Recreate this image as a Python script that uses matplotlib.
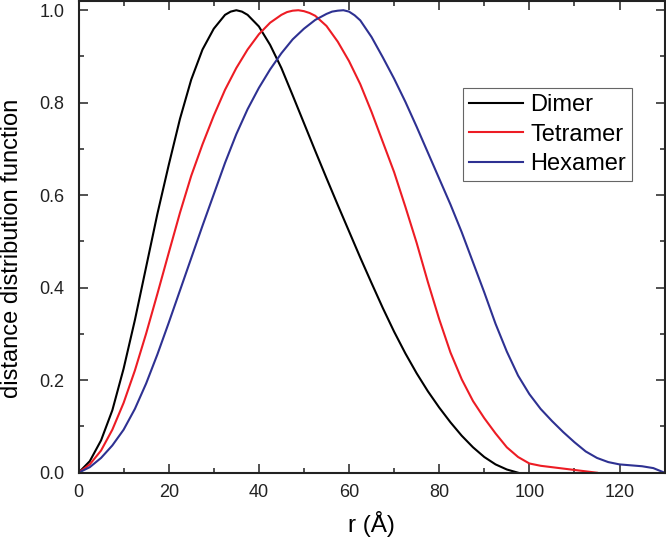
import matplotlib
matplotlib.use('Agg')
import matplotlib.pyplot as plt
from matplotlib.ticker import MultipleLocator

plt.rcParams['font.family'] = ['Liberation Sans', 'DejaVu Sans']

# values (r in Angstrom, normalised P(r))
dimer_r = [0, 2.5, 5, 7.5, 10, 12.5, 15, 17.5, 20, 22.5, 25, 27.5, 30, 32.5, 33.75, 35, 36.25,
           37.5, 40, 42.5, 45, 47.5, 50, 52.5, 55, 57.5, 60, 62.5, 65, 67.5, 70,
           72.5, 75, 77.5, 80, 82.5, 85, 87.5, 90, 92.5, 95, 97.5]
dimer_p = [0, 0.025, 0.07, 0.135, 0.225, 0.33, 0.445, 0.56, 0.665, 0.765, 0.85, 0.915, 0.96, 0.99,
           0.997, 1.0, 0.997,
           0.99, 0.965, 0.925, 0.875, 0.816, 0.756, 0.696, 0.637, 0.579, 0.522, 0.465, 0.41, 0.356, 0.305,
           0.258, 0.215, 0.176, 0.141, 0.109, 0.08, 0.055, 0.034, 0.018, 0.007, 0.0]

tetramer_r = [0, 2.5, 5, 7.5, 10, 12.5, 15, 17.5, 20, 22.5, 25, 27.5, 30, 32.5, 35, 37.5,
              40, 42.5, 45, 46.25, 47.5, 48.75, 50, 51.25, 52.5, 55, 57.5, 60, 62.5, 65, 67.5,
              70, 72.5, 75, 77.5, 80, 82.5, 85, 87.5, 90, 92.5, 95, 97.5, 100, 102.5, 105,
              107.5, 110, 112.5, 115]
tetramer_p = [0, 0.018, 0.048, 0.093, 0.151, 0.221, 0.301, 0.387, 0.475, 0.562, 0.642, 0.71, 0.772,
              0.828, 0.875, 0.915, 0.948, 0.973, 0.99, 0.996, 0.999, 1.0, 0.998, 0.994, 0.988,
              0.966, 0.932, 0.89, 0.84, 0.78, 0.715, 0.65, 0.575, 0.497, 0.412, 0.332, 0.26,
              0.202, 0.155, 0.118, 0.085, 0.055, 0.034, 0.02, 0.015, 0.012, 0.009, 0.006,
              0.003, 0.0]

hexamer_r = [0, 2.5, 5, 7.5, 10, 12.5, 15, 17.5, 20, 22.5, 25, 27.5, 30, 32.5, 35, 37.5,
             40, 42.5, 45, 47.5, 50, 52.5, 55, 56.25, 57.5, 58.75, 60, 61.25, 62.5, 65, 67.5,
             70, 72.5, 75, 77.5, 80, 82.5, 85, 87.5, 90, 92.5, 95, 97.5, 100, 102.5, 105,
             107.5, 110, 112.5, 115, 117.5, 120, 122.5, 125, 127.5, 130]
hexamer_p = [0, 0.012, 0.032, 0.059, 0.093, 0.138, 0.193, 0.256, 0.324, 0.394, 0.464, 0.534, 0.602,
             0.67, 0.732, 0.786, 0.832, 0.872, 0.907, 0.937, 0.96, 0.979, 0.992, 0.997, 0.999,
             1.0, 0.997, 0.989, 0.978, 0.942, 0.898, 0.852, 0.802, 0.748, 0.692, 0.636, 0.58,
             0.52, 0.455, 0.39, 0.322, 0.262, 0.21, 0.17, 0.138, 0.112, 0.088, 0.066, 0.046,
             0.032, 0.023, 0.018, 0.016, 0.014, 0.01, 0.0]

series = [
    ('Dimer', dimer_r, dimer_p, '#000000'),
    ('Tetramer', tetramer_r, tetramer_p, '#ED1C24'),
    ('Hexamer', hexamer_r, hexamer_p, '#2E3192'),
]

fig = plt.figure(figsize=(6.66, 5.41), dpi=100)
ax = fig.add_axes([0.1179, 0.1262, 0.880, 0.872])

for name, r, p, col in series:
    ax.plot(r, p, color=col, lw=1.5, label=name)

ax.set_xlim(0, 130)
ax.set_ylim(0, 1.02)
ax.xaxis.set_major_locator(MultipleLocator(20))
ax.xaxis.set_minor_locator(MultipleLocator(10))
ax.yaxis.set_major_locator(MultipleLocator(0.2))
ax.yaxis.set_minor_locator(MultipleLocator(0.1))
ax.yaxis.set_major_formatter(plt.FormatStrFormatter('%.1f'))

ax.tick_params(which='both', direction='in', top=True, right=True, width=1.1, colors='#222222')
ax.tick_params(which='major', length=6.5)
ax.tick_params(which='minor', length=3.5)
ax.tick_params(axis='x', which='major', pad=8, labelsize=13)
ax.tick_params(axis='y', which='major', pad=10, labelsize=13)
for s in ax.spines.values():
    s.set_linewidth(1.5)
    s.set_color('#222222')

ax.set_xlabel('r (Å)', fontsize=17.5, labelpad=7)
ax.set_ylabel('distance distribution function', fontsize=17)
ax.yaxis.set_label_coords(-0.095, 0.476)

leg = ax.legend(loc='upper left', bbox_to_anchor=(0.656, 0.8156), borderaxespad=0,
                fontsize=17, handlelength=2.3, handletextpad=0.3, labelspacing=0.33,
                borderpad=0.25, fancybox=False, framealpha=1)
leg.get_frame().set_edgecolor('#666666')
leg.get_frame().set_linewidth(0.8)

fig.savefig('out.png', dpi=100)
